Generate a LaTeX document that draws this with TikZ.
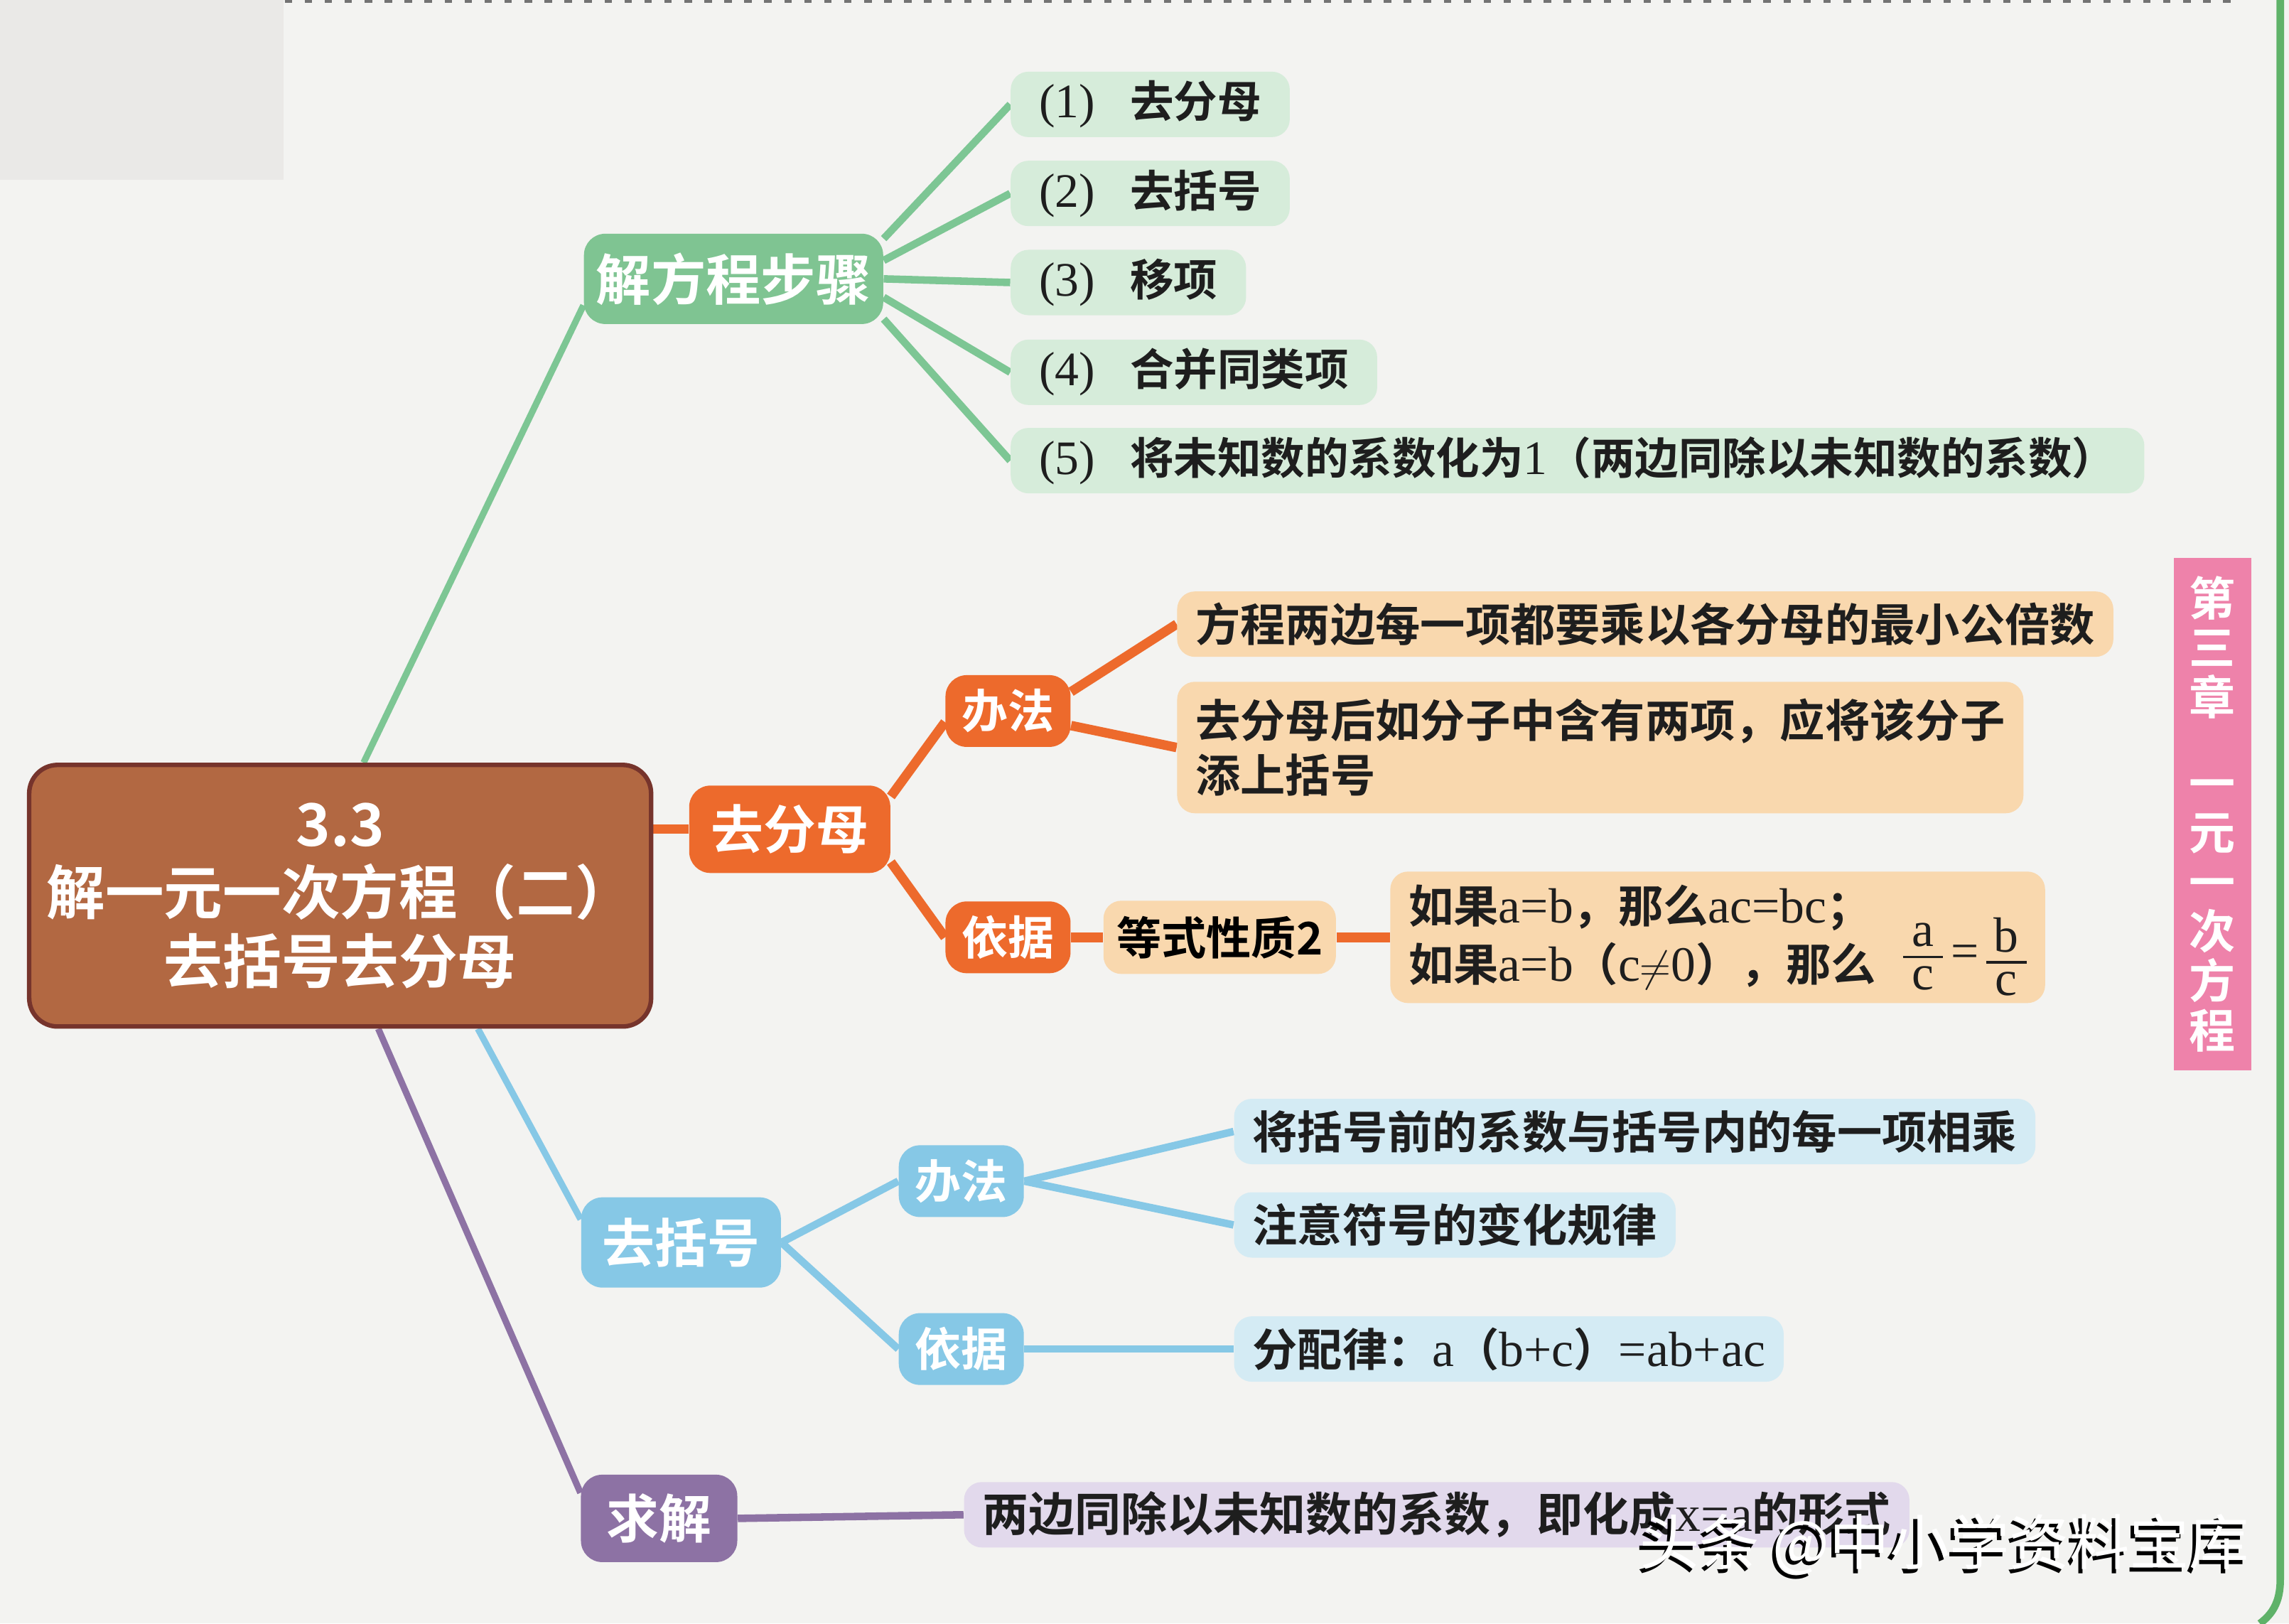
\documentclass[tikz,border=0pt]{standalone}
\usepackage{amsmath}
\usepackage{fontspec}
\setmainfont{Noto Sans CJK SC}[BoldFont={Noto Sans CJK SC Bold}]
\newfontfamily\lat{Liberation Serif}[Scale=1.1]
\usetikzlibrary{backgrounds}

\definecolor{paper}{RGB}{243,243,241}
\definecolor{paperdark}{RGB}{234,233,231}
\definecolor{pageedge}{RGB}{95,178,105}
\definecolor{inkgray}{RGB}{30,30,30}
\definecolor{brnroot}{RGB}{178,104,66}
\definecolor{brnedge}{RGB}{118,52,44}
\definecolor{grnhub}{RGB}{127,196,146}
\definecolor{grnleaf}{RGB}{214,236,218}
\definecolor{grnline}{RGB}{125,198,148}
\definecolor{orghub}{RGB}{237,106,44}
\definecolor{orgleaf}{RGB}{249,216,174}
\definecolor{bluhub}{RGB}{134,200,230}
\definecolor{bluleaf}{RGB}{212,235,244}
\definecolor{purhub}{RGB}{141,114,164}
\definecolor{purleaf}{RGB}{226,217,236}
\definecolor{pinkband}{RGB}{238,130,170}

\newcommand{\srf}[1]{{\lat\mdseries #1}}
\newcommand{\upfrac}[2]{\ensuremath{\vcenter{\hbox to .9em{\hss\srf{#1}\hss}\kern3.5pt\hrule height .9pt\kern3.5pt\hbox to .9em{\hss\srf{#2}\hss}}}}

\begin{document}
\begin{tikzpicture}[x=0.2054mm,y=-0.2054mm,
	hub/.style={rounded corners=3mm, text=white, inner sep=0pt, font=\bfseries\fontsize{21pt}{24pt}\selectfont},
	smallhub/.style={hub, minimum width=17.6mm, minimum height=10.1mm, font=\bfseries\fontsize{18.5pt}{22pt}\selectfont},
	leaf/.style={rounded corners=2.5mm, anchor=west, inner xsep=2.6mm, inner ysep=0pt, minimum height=9.2mm, align=left, text=inkgray, font=\bfseries\fontsize{18pt}{22pt}\selectfont},
	stepleaf/.style={leaf, fill=grnleaf, inner xsep=4mm, font=\bfseries\fontsize{17.5pt}{22pt}\selectfont},
	trunk/.style={line width=2.6pt},
	twig/.style={line width=3pt},
	thicktwig/.style={line width=3.8pt}]
	\useasboundingbox (0,0) rectangle (1568,1112);

	% root
	\node [draw=brnedge, line width=1.8pt, fill=brnroot, rounded corners=4mm, minimum width=87.5mm, minimum height=36.8mm, inner sep=0pt, text=white, align=center, font=\bfseries\fontsize{23.5pt}{27.4pt}\selectfont] (root) at (233,613.5) {3.3\\解一元一次方程（二）\\去括号去分母};

	% solving steps
	\node [hub, fill=grnhub, minimum width=42.1mm, minimum height=12.7mm, font=\bfseries\fontsize{22pt}{24pt}\selectfont] (steps) at (502.5,191) {解方程步骤};
	\node [stepleaf] (s1) at (692,71.5) {\srf{(1)}\hspace{.8em}去分母};
	\node [stepleaf] (s2) at (692,132.5) {\srf{(2)}\hspace{.8em}去括号};
	\node [stepleaf] (s3) at (692,193.5) {\srf{(3)}\hspace{.8em}移项};
	\node [stepleaf] (s4) at (692,255) {\srf{(4)}\hspace{.8em}合并同类项};
	\node [stepleaf] (s5) at (692,315.5) {\srf{(5)}\hspace{.8em}将未知数的系数化为\srf{1}（两边同除以未知数的系数）};

	% removing denominators
	\node [hub, fill=orghub, minimum width=28.3mm, minimum height=12.3mm] (dropden) at (541,568) {去分母};
	\node [smallhub, fill=orghub] (waya) at (690.5,487) {办法};
	\node [smallhub, fill=orghub] (basisa) at (690.5,642) {依据};
	\node [leaf, fill=orgleaf] (lcm) at (806,427.5) {方程两边每一项都要乘以各分母的最小公倍数};
	\node [leaf, fill=orgleaf, minimum height=18.5mm] (addpar) at (806,512) {去分母后如分子中含有两项，应将该分子\\添上括号};
	\node [leaf, fill=orgleaf, anchor=center, align=center, minimum width=32.7mm, minimum height=10.3mm, inner xsep=0pt, text=black] (prop) at (835.5,642) {等式性质2};
	\node [leaf, fill=orgleaf, minimum height=18.5mm, font=\bfseries\fontsize{18pt}{23.4pt}\selectfont] (eqrule) at (952,642) {如果\srf{a=b}，那么\srf{ac=bc}；\\如果\srf{a=b}（\srf{c}$\neq$\srf{0}），那么\hspace{.6em}\smash{\raisebox{5.5pt}{\upfrac{a}{c}\,\srf{=}\,\upfrac{b}{c}}}};

	% removing brackets
	\node [hub, fill=bluhub, minimum width=28.1mm, minimum height=12.7mm] (dropbr) at (466.5,851) {去括号};
	\node [smallhub, fill=bluhub] (wayb) at (658.5,809) {办法};
	\node [smallhub, fill=bluhub] (basisb) at (658.5,924) {依据};
	\node [leaf, fill=bluleaf] (mult) at (845,775) {将括号前的系数与括号内的每一项相乘};
	\node [leaf, fill=bluleaf] (sign) at (845,839) {注意符号的变化规律};
	\node [leaf, fill=bluleaf] (distr) at (845,924) {分配律：\srf{a}（\srf{b+c}）\srf{=ab+ac}};

	% solving
	\node [hub, fill=purhub, minimum width=22mm, minimum height=12.3mm] (solve) at (451.5,1040) {求解};
	\node [leaf, fill=purleaf, font=\bfseries\fontsize{18.5pt}{22pt}\selectfont] (divide) at (660,1037.5) {两边同除以未知数的系数，即化成\srf{x=a}的形式};

	% chapter band
	\node [fill=pinkband, minimum width=10.9mm, minimum height=72.1mm, inner sep=0pt, text=white, align=center, font=\bfseries\fontsize{18.5pt}{19.8pt}\selectfont] (chapter) at (1515.5,557.5) {第\\三\\章\\[14.5pt]一\\元\\一\\次\\方\\程};

	% watermark
	\node [text=black, font=\fontsize{24pt}{28pt}\selectfont] (wmshade) at (1329.5,1060.5) {头条 @中小学资料宝库};
	\node [text=white, font=\fontsize{24pt}{28pt}\selectfont] (wm) at (1332,1058) {头条 @中小学资料宝库};

	\begin{scope}[on background layer]
		\fill [paper] (0,0) rectangle (1568,1112);
		\fill [paperdark] (0,0) rectangle (194,123);
		\draw [black!55, line width=1.2pt, dash pattern=on 3pt off 5pt] (195,1) -- (1535,1);
		\draw [pageedge, line width=3pt] (1562,0) -- (1562,1082) .. controls (1562,1098) and (1556,1106) .. (1548,1112);
		% branches from the root
		\draw [grnline, trunk] (root.80) -- (steps.190);
		\draw [orghub, thicktwig] (dropden.west) -- (dropden.west -| root.east);
		\draw [bluhub, trunk] (root.-44) -- (dropbr.167);
		\draw [purhub, trunk] (root.-74) -- (solve.162);
		% steps
		\foreach \leafname/\angl in {s1/15,s2/7,s3/0,s4/-7,s5/-15}
			\draw [grnline, twig] (steps.\angl) -- (\leafname.west);
		% denominators
		\draw [orghub, thicktwig] (dropden.18) -- (waya.190);
		\draw [orghub, thicktwig] (dropden.-18) -- (basisa.west);
		\draw [orghub, thicktwig] (waya.17) -- (lcm.west);
		\draw [orghub, thicktwig] (waya.-13) -- (addpar.west);
		\draw [orghub, thicktwig] (basisa.east) -- (prop.west);
		\draw [orghub, thicktwig] (prop.east) -- (eqrule.west);
		% brackets
		\draw [bluhub, twig] (dropbr.east) -- (wayb.west);
		\draw [bluhub, twig] (dropbr.east) -- (basisb.west);
		\draw [bluhub, twig] (wayb.east) -- (mult.west);
		\draw [bluhub, twig] (wayb.east) -- (sign.west);
		\draw [bluhub, twig] (basisb.east) -- (distr.west);
		% solving
		\draw [purhub, twig] (solve.east) -- (divide.west);
	\end{scope}
\end{tikzpicture}
\end{document}
